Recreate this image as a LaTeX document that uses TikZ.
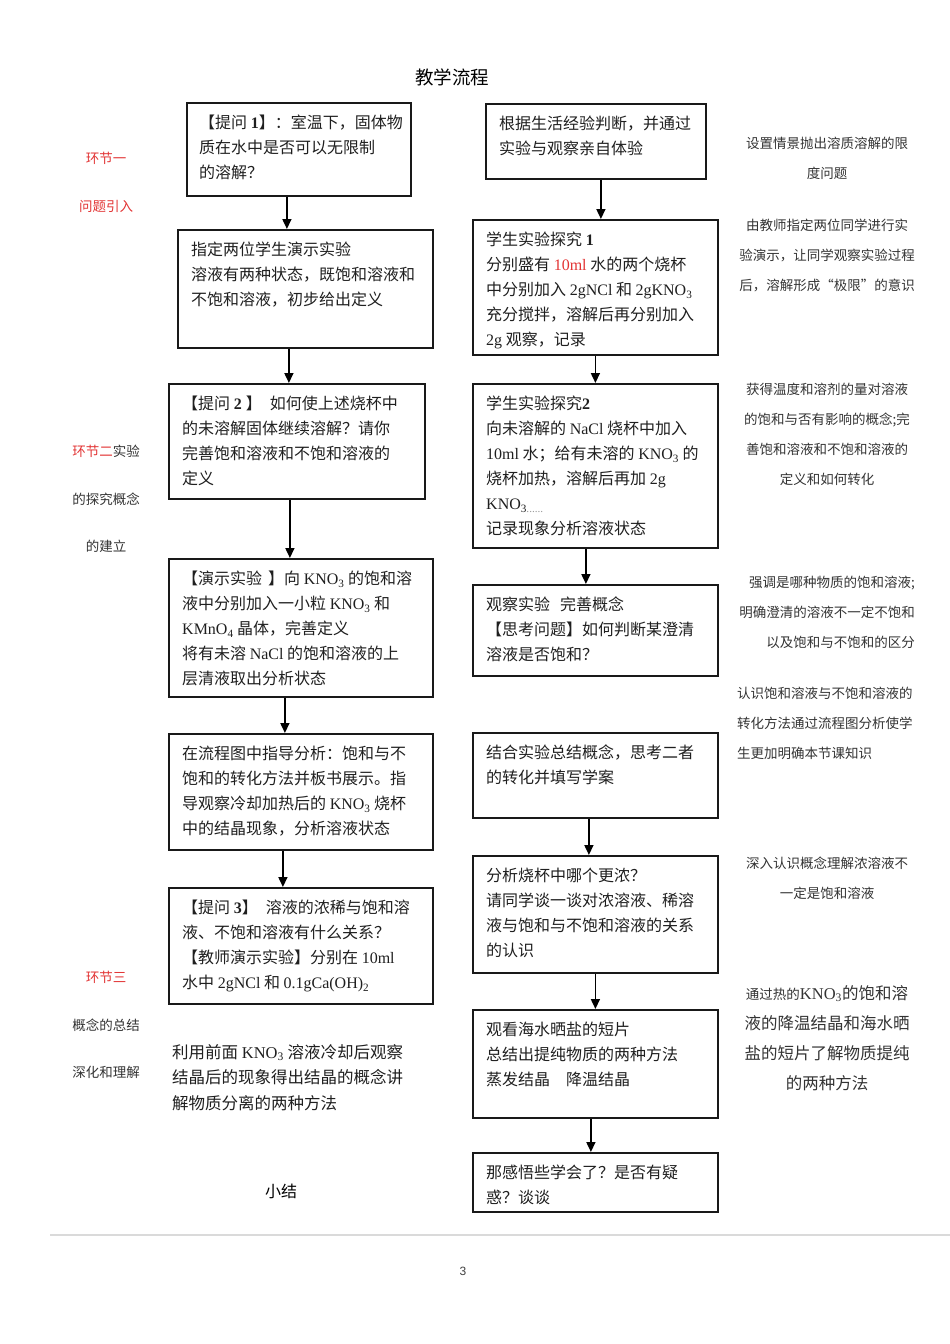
\documentclass[tikz,border=0pt]{standalone}
\usepackage{fontspec}
\setmainfont{Noto Sans CJK SC}
\newfontfamily\lat{Liberation Serif}
\newfontfamily\pgsf{Liberation Sans}
\usetikzlibrary{arrows.meta}
\definecolor{notered}{RGB}{226,52,52}
\definecolor{rulegray}{RGB}{218,218,218}
\newcommand{\en}[1]{{\lat #1}}
\newcommand{\kno}{\en{KNO\textsubscript{3}}}

\begin{document}
\begin{tikzpicture}[
    x=1pt, y=-1pt,
    box/.style={draw=black!90, line width=1.8pt, anchor=north west, inner sep=0pt},
    txt/.style={anchor=north west, align=left, inner sep=0pt, text=black!88, font=\fontsize{16}{25}\selectfont,
        execute at begin node={\rule{0pt}{18pt}}},
    note/.style={anchor=north, align=center, inner sep=0pt, text=black!80, font=\fontsize{13.5}{30}\selectfont,
        execute at begin node={\rule{0pt}{14pt}}},
    tag/.style={anchor=north, align=center, inner sep=0pt, text=black!80, font=\fontsize{13.5}{47.5}\selectfont,
        execute at begin node={\rule{0pt}{14pt}}},
    arr/.style={-{Triangle[length=10pt, width=9pt]}, line width=1.6pt}
]
    \useasboundingbox (0,0) rectangle (950,1344);

    \node[anchor=base, inner sep=0pt, font=\fontsize{18.5}{22}\selectfont] (title) at (452,84) {教学流程};

    % left column: teacher
    \node[box, minimum width=224pt, minimum height=93pt] (q1) at (186,102) {};
    \node[box, minimum width=255pt, minimum height=118pt] (q2) at (177,229) {};
    \node[box, minimum width=256pt, minimum height=115pt] (q3) at (168,383) {};
    \node[box, minimum width=264pt, minimum height=138pt] (q4) at (168,558) {};
    \node[box, minimum width=264pt, minimum height=116pt] (q5) at (168,733) {};
    \node[box, minimum width=264pt, minimum height=116pt] (q6) at (168,887) {};

    \node[txt] (q1t) at ([shift={(13,13)}]q1.north west) {
        【提问 \en{\bfseries 1}】：室温下，固体物\\
        质在水中是否可以无限制\\
        的溶解？};
    \node[txt] (q2t) at ([shift={(14,13)}]q2.north west) {
        指定两位学生演示实验\\
        溶液有两种状态，既饱和溶液和\\
        不饱和溶液，初步给出定义};
    \node[txt] (q3t) at ([shift={(14,13)}]q3.north west) {
        【提问 \en{\bfseries 2}\hspace{4pt}】\hspace{8pt}如何使上述烧杯中\\
        的未溶解固体继续溶解？请你\\
        完善饱和溶液和不饱和溶液的\\
        定义};
    \node[txt] (q4t) at ([shift={(14,13)}]q4.north west) {
        【演示实验\hspace{6pt}】向 \kno\ 的饱和溶\\
        液中分别加入一小粒 \kno\ 和\\
        \en{KMnO\textsubscript{4}} 晶体，完善定义\\
        将有未溶 \en{NaCl} 的饱和溶液的上\\
        层清液取出分析状态};
    \node[txt] (q5t) at ([shift={(14,13)}]q5.north west) {
        在流程图中指导分析：饱和与不\\
        饱和的转化方法并板书展示。指\\
        导观察冷却加热后的 \kno\ 烧杯\\
        中的结晶现象，分析溶液状态};
    \node[txt] (q6t) at ([shift={(14,13)}]q6.north west) {
        【提问 \en{\bfseries 3}】\hspace{8pt}溶液的浓稀与饱和溶\\
        液、不饱和溶液有什么关系？\\
        【教师演示实验】分别在 \en{10ml}\\
        水中 \en{2gNCl} 和 \en{0.1gCa(OH)\textsubscript{2}}};

    \node[txt, font=\fontsize{16.5}{25.5}\selectfont] (k1) at (172,1044) {
        利用前面 \kno\ 溶液冷却后观察\\
        结晶后的现象得出结晶的概念讲\\
        解物质分离的两种方法};
    \node[anchor=base, inner sep=0pt, font=\fontsize{16}{20}\selectfont] (xj) at (281,1197) {小结};

    % right column: students
    \node[box, minimum width=220pt, minimum height=75pt] (r1) at (485,103) {};
    \node[box, minimum width=245pt, minimum height=135pt] (r2) at (472,219) {};
    \node[box, minimum width=245pt, minimum height=164pt] (r3) at (472,383) {};
    \node[box, minimum width=245pt, minimum height=91pt] (r4) at (472,584) {};
    \node[box, minimum width=245pt, minimum height=85pt] (r5) at (472,732) {};
    \node[box, minimum width=245pt, minimum height=117pt] (r6) at (472,855) {};
    \node[box, minimum width=245pt, minimum height=108pt] (r7) at (472,1009) {};
    \node[box, minimum width=245pt, minimum height=59pt] (r8) at (472,1152) {};

    \node[txt] (r1t) at ([shift={(14,13)}]r1.north west) {
        根据生活经验判断，并通过\\
        实验与观察亲自体验};
    \node[txt] (r2t) at ([shift={(14,13)}]r2.north west) {
        学生实验探究 \en{\bfseries 1}\\
        分别盛有 \textcolor{notered}{\en{10ml}} 水的两个烧杯\\
        中分别加入 \en{2gNCl} 和 \en{2gKNO\textsubscript{3}}\\
        充分搅拌，溶解后再分别加入\\
        \en{2g} 观察，记录};
    \node[txt] (r3t) at ([shift={(14,13)}]r3.north west) {
        学生实验探究\en{\bfseries 2}\\
        向未溶解的 \en{NaCl} 烧杯中加入\\
        \en{10ml} 水；给有未溶的 \kno\ 的\\
        烧杯加热，溶解后再加 \en{2g}\\
        \en{KNO\textsubscript{3\textcolor{black!40}{......}}}\\
        记录现象分析溶液状态};
    \node[txt] (r4t) at ([shift={(14,13)}]r4.north west) {
        观察实验\hspace{10pt}完善概念\\
        【思考问题】如何判断某澄清\\
        溶液是否饱和？};
    \node[txt] (r5t) at ([shift={(14,13)}]r5.north west) {
        结合实验总结概念，思考二者\\
        的转化并填写学案};
    \node[txt] (r6t) at ([shift={(14,13)}]r6.north west) {
        分析烧杯中哪个更浓？\\
        请同学谈一谈对浓溶液、稀溶\\
        液与饱和与不饱和溶液的关系\\
        的认识};
    \node[txt] (r7t) at ([shift={(14,13)}]r7.north west) {
        观看海水晒盐的短片\\
        总结出提纯物质的两种方法\\
        蒸发结晶\hspace{16pt}降温结晶};
    \node[txt] (r8t) at ([shift={(14,13)}]r8.north west) {
        那感悟些学会了？是否有疑\\
        惑？谈谈};

    % arrows
    \draw[arr] ([xshift=-12pt]q1.south) -- ([xshift=-12pt]q1.south |- q2.north);
    \draw[arr] ([xshift=-16.5pt]q2.south) -- ([xshift=-16.5pt]q2.south |- q3.north);
    \draw[arr] ([xshift=-7pt]q3.south) -- ([xshift=-7pt]q3.south |- q4.north);
    \draw[arr] ([xshift=-16pt]q4.south) -- ([xshift=-16pt]q4.south |- q5.north);
    \draw[arr] ([xshift=-18pt]q5.south) -- ([xshift=-18pt]q5.south |- q6.north);
    \draw[arr] ([xshift=5pt]r1.south) -- ([xshift=5pt]r1.south |- r2.north);
    \draw[arr] (r2.south) -- (r3.north);
    \draw[arr] ([xshift=-9.5pt]r3.south) -- ([xshift=-9.5pt]r3.south |- r4.north);
    \draw[arr] ([xshift=-6.5pt]r5.south) -- ([xshift=-6.5pt]r5.south |- r6.north);
    \draw[arr] (r6.south) -- (r7.north);
    \draw[arr] ([xshift=-4.5pt]r7.south) -- ([xshift=-4.5pt]r7.south |- r8.north);

    % stage tags on the left
    \node[tag] (t1) at (106,152) {\textcolor{notered}{环节一}\\\textcolor{notered}{问题引入}};
    \node[tag] (t2) at (106,445) {\textcolor{notered}{环节二}实验\\的探究概念\\的建立};
    \node[tag] (t3) at (106,971) {\textcolor{notered}{环节三}\\概念的总结\\深化和理解};

    % design notes on the right
    \node[note] (n1) at (827,137) {设置情景抛出溶质溶解的限\\度问题};
    \node[note] (n2) at (827,219) {由教师指定两位同学进行实\\验演示，让同学观察实验过程\\后，溶解形成“极限”的意识};
    \node[note] (n3) at (827,383) {获得温度和溶剂的量对溶液\\的饱和与否有影响的概念;完\\善饱和溶液和不饱和溶液的\\定义和如何转化};
    \node[note, anchor=north east, align=right] (n4) at (915,576) {强调是哪种物质的饱和溶液;\\明确澄清的溶液不一定不饱和\\以及饱和与不饱和的区分};
    \node[note, anchor=north west, align=left] (n5) at (737,687) {认识饱和溶液与不饱和溶液的\\转化方法通过流程图分析使学\\生更加明确本节课知识};
    \node[note] (n6) at (827,857) {深入认识概念理解浓溶液不\\一定是饱和溶液};
    \node[note, font=\fontsize{16.5}{30}\selectfont, execute at begin node={\rule{0pt}{17pt}}] (n7) at (827,985) {{\fontsize{13.5}{30}\selectfont 通过热的}\kno 的饱和溶\\液的降温结晶和海水晒\\盐的短片了解物质提纯\\的两种方法};

    % page foot
    \draw[rulegray, line width=1.2pt] (50,1235) -- (950,1235);
    \node[anchor=base, inner sep=0pt, text=black!75, font=\pgsf\fontsize{12}{14}\selectfont] (pg) at (463,1275) {3};
\end{tikzpicture}
\end{document}
